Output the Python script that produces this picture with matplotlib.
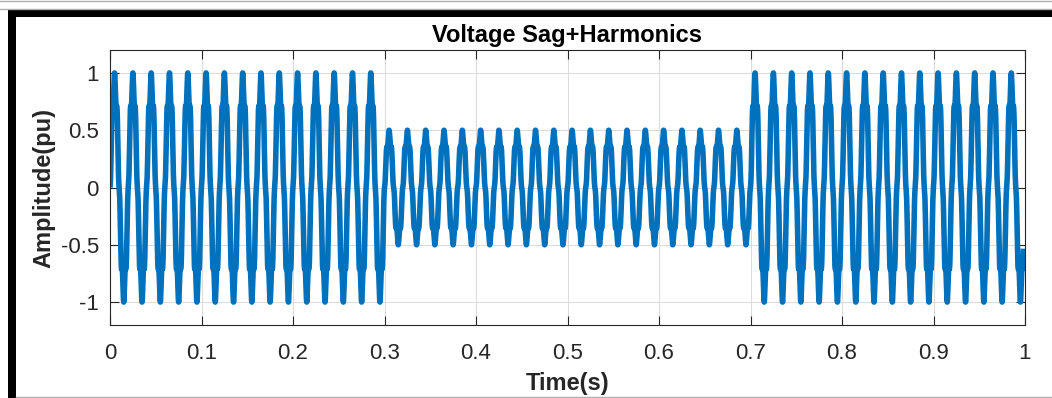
"""
Voltage sag + harmonics waveform, MATLAB-style figure.
"""
import numpy as np
import matplotlib
matplotlib.use("Agg")
import matplotlib.pyplot as plt
from matplotlib.patches import Rectangle
from matplotlib.lines import Line2D

# Signal parameters
f0 = 50.0                      # fundamental, Hz
t_end = 0.9983                 # last sample, s
fs = 20000                     # samples per second
sag_start = 0.3
sag_end = 0.7
sag_depth = 0.5                # amplitude during the sag, pu
harm_orders = [1, 7]
harm_amps = [1.0, -0.1]

x_ticks = [0, 0.1, 0.2, 0.3, 0.4, 0.5, 0.6, 0.7, 0.8, 0.9, 1]
x_ticklabels = ["0", "0.1", "0.2", "0.3", "0.4", "0.5", "0.6", "0.7", "0.8", "0.9", "1"]
y_ticks = [-1, -0.5, 0, 0.5, 1]
y_ticklabels = ["-1", "-0.5", "0", "0.5", "1"]

# Build waveform
t = np.arange(0, t_end, 1.0 / fs)
theta = 2 * np.pi * f0 * t
wave = np.zeros_like(t)
for h, a in zip(harm_orders, harm_amps):
    wave += a * np.sin(h * theta)
wave /= np.abs(wave).max()
env = np.where((t >= sag_start) & (t < sag_end), sag_depth, 1.0)
v = env * wave

plt.rcParams["font.family"] = ["Liberation Sans", "DejaVu Sans"]
plt.rcParams["axes.unicode_minus"] = False

W, H = 1052, 398
fig = plt.figure(figsize=(W / 100, H / 100), dpi=100)
fig.patch.set_facecolor("white")

# axes placed in pixel coords
ax_l, ax_t, ax_r, ax_b = 110, 50, 1025, 325
ax = fig.add_axes([ax_l / W, (H - ax_b) / H, (ax_r - ax_l) / W, (ax_b - ax_t) / H])

ax.plot(t, v, color="#0072BD", lw=4.0, solid_joinstyle="round",
        solid_capstyle="butt")

ax.set_xlim(0, 1)
ax.set_ylim(-1.2, 1.2)
ax.set_xticks(x_ticks)
ax.set_xticklabels(x_ticklabels)
ax.set_yticks(y_ticks)
ax.set_yticklabels(y_ticklabels)

ax.grid(True, color="#dcdcdc", lw=0.8)
ax.set_axisbelow(True)
for s in ax.spines.values():
    s.set_color("#262626")
    s.set_linewidth(0.8)
ax.tick_params(direction="in", length=6.5, width=0.8, colors="#262626",
               labelsize=16, top=True, right=True, pad=8)
ax.tick_params(axis="x", pad=13)

ax.set_title("Voltage Sag+Harmonics", fontsize=17, fontweight="bold",
             color="black", pad=6)
ax.set_xlabel("Time(s)", fontsize=17, fontweight="bold", color="#262626", labelpad=6)
ax.set_ylabel("Amplitude(pu)", fontsize=17, fontweight="bold", color="#262626", labelpad=4)

# screenshot frame: black bands top/left, thin gray lines
def px_rect(x0, y0, x1, y1, color):
    fig.add_artist(Rectangle((x0 / W, 1 - y1 / H), (x1 - x0) / W, (y1 - y0) / H,
                             transform=fig.transFigure, color=color, lw=0))

def px_hline(y, x0, x1, color):
    fig.add_artist(Line2D([x0 / W, x1 / W], [1 - y / H, 1 - y / H],
                          transform=fig.transFigure, color=color, lw=1))

px_rect(8, 10, W, 17, "black")
px_rect(8, 10, 16, H, "black")
px_hline(0.5, 0, W, "#b0b0b0")
px_hline(8.5, 0, W, "#b0b0b0")
px_hline(396.5, 16, W, "#b0b0b0")

plt.savefig("out.png", dpi=100)
plt.close()
